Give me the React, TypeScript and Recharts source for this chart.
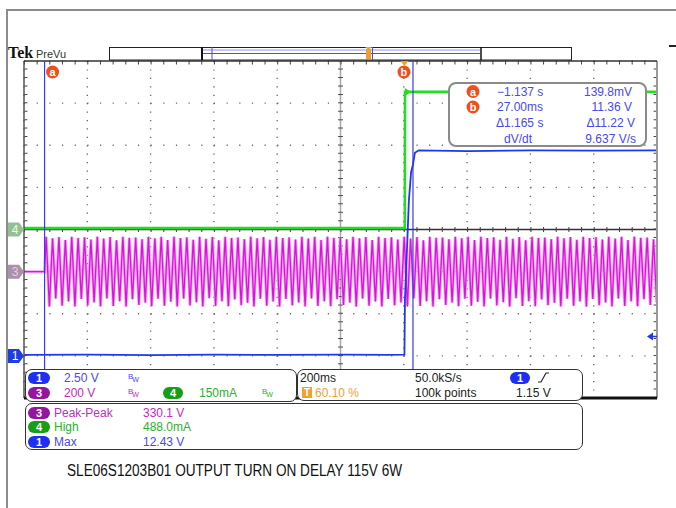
import React from "react";
import {
  CartesianGrid,
  Line,
  LineChart,
  ReferenceDot,
  ReferenceLine,
  XAxis,
  YAxis,
} from "recharts";

// Screen: 10 x 8 divisions, 200 ms/div, trigger at 60.10 % of the record
const timeDomain = [-1.202, 0.798];
const timeDivs = [-1.202, -1.002, -0.802, -0.602, -0.402, -0.202, -0.002, 0.198, 0.398, 0.598, 0.798];

// CH1 output voltage, 2.50 V/div, ground 3 div below centre
const ch1Domain = [-2.5, 17.5];
const ch1Divs = [-2.5, 0, 2.5, 5, 7.5, 10, 12.5, 15, 17.5];
const ch1Time = [
  -1.202, -1.0, -0.8, -0.6, -0.4, -0.2, -0.05, 0.0, 0.0016, 0.008, 0.014,
  0.021, 0.027, 0.033, 0.045, 0.2, 0.4, 0.6, 0.798,
];
const ch1Volts = [
  0.06, 0.08, 0.05, 0.07, 0.06, 0.08, 0.06, 0.07, 3.3, 6.3, 9.2, 10.9, 11.36,
  12.05, 12.2, 12.15, 12.2, 12.18, 12.2,
];

// CH4 output current, 150 mA/div, ground at centre
const ch4Time = [-1.202, 0.0012, 0.0018, 0.798];
const ch4mA = [5, 5, 490, 490];

// CH3 AC input, 200 V/div, ground 1 div below centre; switched on at cursor a
const ch3On = -1.137;
const ch3Step = 0.0101;
const ch3Volts = [
  165, -166, 158, -128, 164, -162, 150, -142, 165, -165, 160, -130, 163, -160, 152, -146,
  166, -165, 157, -127, 164, -163, 149, -140, 165, -166, 161, -131, 162, -158, 153, -147,
  165, -164, 158, -129, 165, -162, 150, -143, 166, -165, 159, -128, 163, -161, 151, -145,
  165, -166, 156, -126, 164, -163, 149, -141, 165, -164, 160, -132, 162, -159, 154, -148,
  166, -165, 158, -129, 164, -162, 151, -142, 165, -166, 159, -130, 163, -160, 152, -146,
  165, -165, 157, -127, 165, -163, 150, -141, 166, -164, 161, -131, 162, -158, 153, -147,
  165, -166, 158, -128, 164, -162, 150, -142, 165, -165, 160, -130, 163, -160, 152, -146,
  166, -165, 157, -127, 164, -163, 149, -140, 165, -166, 161, -131, 162, -158, 153, -147,
  165, -164, 158, -129, 165, -162, 150, -143, 166, -165, 159, -128, 163, -161, 151, -145,
  165, -166, 156, -126, 164, -163, 149, -141, 165, -164, 160, -132, 162, -159, 154, -148,
  166, -165, 158, -129, 164, -162, 151, -142, 165, -166, 159, -130, 163, -160, 152, -146,
  165, -165, 157, -127, 165, -163, 150, -141, 166, -164, 161, -131, 162, -158, 153, -147,
];

const cursorA = -1.137;
const cursorB = 0.027;
const trigLevel = 1.15;

const ch1Data = ch1Time.map((t, i) => ({ t, v: ch1Volts[i] }));
const ch4Data = ch4Time.map((t, i) => ({ t, v: ch4mA[i] }));
const ch3Data = [
  { t: timeDomain[0], v: 0 },
  { t: ch3On, v: 0 },
  ...ch3Volts.map((v, i) => ({ t: ch3On + (i + 0.5) * ch3Step, v })),
];

// division units -> axis units (for graticule decorations)
const dT = (d: number) => timeDomain[0] + d * 0.2;
const dV = (d: number) => ch1Domain[0] + (d + 4) * 2.5;

const FONT = "'Liberation Sans', Arial, sans-serif";
const BLUE = "#2236ee";
const BLUE_TXT = "#4848f4";
const MAG = "#de10de";
const MAG_LIGHT = "#f4a2f4";
const MAG_TXT = "#c02cc0";
const GREEN = "#22dd22";
const GREEN_TXT = "#2fae2f";
const ORANGE = "#f04e1c";

function Txt(props: {
  x: number;
  y: number;
  c?: string;
  size?: number;
  right?: boolean;
  children: React.ReactNode;
}) {
  const { x, y, c = "#222", size = 12, right, children } = props;
  const style: React.CSSProperties = {
    position: "absolute",
    top: y - 7,
    lineHeight: "14px",
    fontSize: size,
    fontFamily: FONT,
    color: c,
    whiteSpace: "nowrap",
  };
  if (right) style.right = 676 - x;
  else style.left = x;
  return <div style={style}>{children}</div>;
}

function Pill(props: { x: number; y: number; w?: number; bg: string; label: string }) {
  const { x, y, w = 22, bg, label } = props;
  return (
    <div
      style={{
        position: "absolute",
        left: x,
        top: y,
        width: w,
        height: 12,
        borderRadius: 6,
        background: bg,
        color: "#fff",
        fontSize: 11,
        fontWeight: "bold",
        fontFamily: FONT,
        lineHeight: "12px",
        textAlign: "center",
      }}
    >
      {label}
    </div>
  );
}

function Bw(props: { x: number; y: number; c: string }) {
  return (
    <div
      style={{
        position: "absolute",
        left: props.x,
        top: props.y,
        color: props.c,
        fontFamily: FONT,
        fontSize: 8,
        lineHeight: "8px",
      }}
    >
      B<span style={{ position: "relative", top: 3, left: -1, fontSize: 7 }}>W</span>
    </div>
  );
}

function Panel(props: { x: number; y: number; w: number; h: number }) {
  return (
    <div
      style={{
        position: "absolute",
        left: props.x,
        top: props.y,
        width: props.w,
        height: props.h,
        boxSizing: "border-box",
        border: "1.5px solid #333",
        borderRadius: 7,
        background: "#fff",
      }}
    />
  );
}

function Badge(props: { cx: number; cy: number; ch: string }) {
  return (
    <g>
      <circle cx={props.cx} cy={props.cy} r={6.5} fill={ORANGE} />
      <text
        x={props.cx}
        y={props.cy + 4}
        textAnchor="middle"
        fill="#fff"
        fontSize={11}
        fontWeight="bold"
        fontFamily={FONT}
      >
        {props.ch}
      </text>
    </g>
  );
}

function GndMarker(props: any, label: string, bg: string, fg: string) {
  const { cx, cy } = props;
  const pts = `${cx - 16},${cy - 7} ${cx - 5},${cy - 7} ${cx},${cy} ${cx - 5},${cy + 7} ${cx - 16},${cy + 7}`;
  return (
    <g>
      <polygon points={pts} fill={bg} />
      <text x={cx - 9} y={cy + 4.5} textAnchor="middle" fill={fg} fontSize={12} fontFamily={FONT}>
        {label}
      </text>
    </g>
  );
}

const ax = { xAxisId: "t", yAxisId: "ch1" };

export default function App() {
  return (
    <div
      style={{
        position: "absolute",
        left: 0,
        top: 0,
        width: 676,
        height: 508,
        background: "#fff",
        overflow: "hidden",
      }}
    >
      {/* page frame */}
      <div
        style={{
          position: "absolute",
          left: 6,
          top: 9,
          width: 700,
          height: 520,
          borderLeft: "2px solid #8c8c8c",
          borderTop: "2px solid #8c8c8c",
        }}
      />
      <div style={{ position: "absolute", left: 669, top: 45, width: 8, height: 1.5, background: "#222" }} />

      <LineChart
        width={676}
        height={508}
        margin={{ top: 61, right: 19, bottom: 110, left: 24 }}
        style={{ position: "absolute", left: 0, top: 0 }}
      >
        <XAxis xAxisId="t" type="number" dataKey="t" domain={timeDomain} ticks={timeDivs} allowDataOverflow hide />
        <YAxis yAxisId="ch1" type="number" domain={ch1Domain} ticks={ch1Divs} allowDataOverflow hide />
        <YAxis yAxisId="ch3" type="number" domain={[-600, 1000]} allowDataOverflow hide />
        <YAxis yAxisId="ch4" type="number" domain={[-600, 600]} allowDataOverflow hide />

        {/* dotted graticule */}
        <CartesianGrid
          {...ax}
          horizontal={false}
          stroke="#6a6a6a"
          strokeWidth={1.4}
          strokeDasharray="1.2 7.22"
        />
        <CartesianGrid
          {...ax}
          vertical={false}
          stroke="#6a6a6a"
          strokeWidth={1.4}
          strokeDasharray="1.2 11.46"
        />

        {/* centre crosshair with minor ticks */}
        <ReferenceLine {...ax} x={dT(5)} stroke="#a8a8a8" strokeWidth={1.5} />
        <ReferenceLine {...ax} x={dT(5)} stroke="#555" strokeWidth={5} strokeDasharray="1 7.42" />
        <ReferenceLine {...ax} y={dV(0)} stroke="#333" strokeWidth={1.5} />
        <ReferenceLine {...ax} y={dV(0)} stroke="#444" strokeWidth={5} strokeDasharray="1 11.66" />

        {/* border ticks */}
        <ReferenceLine
          {...ax}
          segment={[{ x: dT(0), y: dV(3.95) }, { x: dT(10), y: dV(3.95) }]}
          stroke="#444"
          strokeWidth={3}
          strokeDasharray="1 11.66"
        />
        <ReferenceLine
          {...ax}
          segment={[{ x: dT(0.03), y: dV(-4) }, { x: dT(0.03), y: dV(4) }]}
          stroke="#444"
          strokeWidth={3}
          strokeDasharray="1 7.42"
        />
        <ReferenceLine
          {...ax}
          segment={[{ x: dT(9.97), y: dV(-4) }, { x: dT(9.97), y: dV(4) }]}
          stroke="#444"
          strokeWidth={3}
          strokeDasharray="1 7.42"
        />

        {/* CH3: faint intensity-graded band under the bright trace */}
        <Line
          data={ch3Data}
          dataKey="v"
          xAxisId="t"
          yAxisId="ch3"
          type="linear"
          stroke={MAG_LIGHT}
          strokeWidth={3}
          dot={false}
          isAnimationActive={false}
        />
        <Line
          data={ch3Data}
          dataKey="v"
          xAxisId="t"
          yAxisId="ch3"
          type="linear"
          stroke={MAG}
          strokeWidth={1.3}
          dot={false}
          isAnimationActive={false}
        />
        <Line
          data={ch4Data}
          dataKey="v"
          xAxisId="t"
          yAxisId="ch4"
          type="linear"
          stroke={GREEN}
          strokeWidth={2.6}
          dot={false}
          isAnimationActive={false}
        />
        <Line
          data={ch1Data}
          dataKey="v"
          xAxisId="t"
          yAxisId="ch1"
          type="linear"
          stroke={BLUE}
          strokeWidth={1.8}
          dot={false}
          isAnimationActive={false}
        />

        {/* frame */}
        <ReferenceLine {...ax} x={dT(0)} stroke="#555" strokeWidth={1.5} />
        <ReferenceLine {...ax} x={dT(10)} stroke="#999" strokeWidth={2} />
        <ReferenceLine {...ax} y={dV(4)} stroke="#333" strokeWidth={1.5} />
        <ReferenceLine {...ax} y={dV(-4)} stroke="#111" strokeWidth={3} />

        {/* cursors */}
        <ReferenceLine
          {...ax}
          x={cursorA}
          stroke="#3a3ae8"
          strokeWidth={1.2}
          label={(p: any) => <Badge cx={p.viewBox.x + 8} cy={p.viewBox.y + 11} ch="a" />}
        />
        <ReferenceLine
          {...ax}
          x={cursorB}
          stroke="#3a3ae8"
          strokeWidth={1.2}
          label={(p: any) => <Badge cx={p.viewBox.x - 9} cy={p.viewBox.y + 11} ch="b" />}
        />

        {/* trigger position and level */}
        <ReferenceDot
          {...ax}
          x={0}
          y={dV(4)}
          shape={(p: any) => (
            <polygon points={`${p.cx - 4},${p.cy} ${p.cx + 4},${p.cy} ${p.cx},${p.cy + 5}`} fill="#f0a030" />
          )}
        />
        <ReferenceDot
          {...ax}
          x={timeDomain[1]}
          y={trigLevel}
          shape={(p: any) => (
            <g>
              <polygon points={`${p.cx - 10},${p.cy} ${p.cx - 4},${p.cy - 4} ${p.cx - 4},${p.cy + 4}`} fill={BLUE} />
              <line x1={p.cx - 5} y1={p.cy} x2={p.cx} y2={p.cy} stroke={BLUE} strokeWidth={1.5} />
            </g>
          )}
        />
        <ReferenceDot
          xAxisId="t"
          yAxisId="ch4"
          x={ch4Time[2]}
          y={ch4mA[2]}
          shape={(p: any) => (
            <polygon points={`${p.cx},${p.cy - 4} ${p.cx + 6},${p.cy} ${p.cx},${p.cy + 4}`} fill={GREEN} />
          )}
        />

        {/* channel ground markers */}
        <ReferenceDot
          xAxisId="t"
          yAxisId="ch4"
          x={timeDomain[0]}
          y={0}
          shape={(p: any) => GndMarker(p, "4", "#93bf93", "#e8ffe8")}
        />
        <ReferenceDot
          xAxisId="t"
          yAxisId="ch3"
          x={timeDomain[0]}
          y={0}
          shape={(p: any) => GndMarker(p, "3", "#a693a6", "#f4c4f4")}
        />
        <ReferenceDot
          {...ax}
          x={timeDomain[0]}
          y={0}
          shape={(p: any) => GndMarker(p, "1", "#1f3ee0", "#fff")}
        />
      </LineChart>

      {/* header */}
      <div
        style={{
          position: "absolute",
          left: 8,
          top: 45,
          fontFamily: "'Liberation Serif', serif",
          fontWeight: "bold",
          fontSize: 16,
          lineHeight: "16px",
          color: "#111",
        }}
      >
        Tek
      </div>
      <Txt x={36} y={54} c="#333" size={11}>
        PreVu
      </Txt>
      <svg style={{ position: "absolute", left: 0, top: 0 }} width={676} height={61}>
        <rect x={109.5} y={47.5} width={462} height={12.5} fill="#fff" stroke="#222" strokeWidth={1} />
        <line x1={202} y1={47} x2={202} y2={60} stroke="#111" strokeWidth={2} />
        <line x1={481} y1={47} x2={481} y2={60} stroke="#111" strokeWidth={1.5} />
        <line x1={203} y1={53.5} x2={480} y2={53.5} stroke="#4b4bf0" strokeWidth={1} />
        <line x1={203} y1={50} x2={480} y2={50} stroke="#8f8ff4" strokeWidth={1} />
        <line x1={212} y1={47} x2={212} y2={60} stroke="#4b4bf0" strokeWidth={1} />
        <line x1={372.5} y1={47} x2={372.5} y2={60} stroke="#4b4bf0" strokeWidth={1} />
        <rect x={366} y={49} width={5} height={10} fill="#f0a030" />
        <polygon points="365,47 372,47 368.5,50" fill="#f0a030" />
      </svg>

      {/* cursor readout */}
      <div
        style={{
          position: "absolute",
          left: 448,
          top: 82,
          width: 199,
          height: 65,
          boxSizing: "border-box",
          border: "2px solid #8a8a8a",
          borderRadius: 8,
          background: "#fff",
        }}
      />
      <svg style={{ position: "absolute", left: 460, top: 82 }} width={30} height={40}>
        <Badge cx={13} cy={9.5} ch="a" />
        <Badge cx={13} cy={25} ch="b" />
      </svg>
      <Txt x={497} y={91.5} c={BLUE_TXT}>−1.137 s</Txt>
      <Txt x={632} y={91.5} c={BLUE_TXT} right>139.8mV</Txt>
      <Txt x={497} y={107} c={BLUE_TXT}>27.00ms</Txt>
      <Txt x={632} y={107} c={BLUE_TXT} right>11.36 V</Txt>
      <Txt x={496} y={123} c={BLUE_TXT}>Δ1.165 s</Txt>
      <Txt x={635} y={123} c={BLUE_TXT} right>Δ11.22 V</Txt>
      <Txt x={504} y={138.5} c={BLUE_TXT}>dV/dt</Txt>
      <Txt x={636} y={138.5} c={BLUE_TXT} right>9.637 V/s</Txt>

      {/* vertical settings */}
      <Panel x={25} y={369} w={272} h={33} />
      <Pill x={28} y={371.5} bg="#1d2ff0" label="1" />
      <Txt x={64} y={377.5} c={BLUE_TXT}>2.50 V</Txt>
      <Bw x={128} y={373} c={BLUE_TXT} />
      <Pill x={28} y={387} bg="#96159e" label="3" />
      <Txt x={64} y={393} c={MAG_TXT}>200 V</Txt>
      <Bw x={128} y={388} c={MAG_TXT} />
      <Pill x={163} y={387} w={20} bg="#169e16" label="4" />
      <Txt x={199} y={393} c={GREEN_TXT}>150mA</Txt>
      <Bw x={262} y={388} c={GREEN_TXT} />

      {/* horizontal / trigger settings */}
      <Panel x={297} y={369} w={286} h={32} />
      <Txt x={300} y={377.5}>200ms</Txt>
      <Txt x={415} y={377.5}>50.0kS/s</Txt>
      <Pill x={510} y={371.5} w={20} bg="#1d2ff0" label="1" />
      <svg style={{ position: "absolute", left: 537, top: 371 }} width={14} height={13}>
        <polyline points="1,11 4,11 9,2 12,2" fill="none" stroke="#222" strokeWidth={1.2} />
      </svg>
      <div
        style={{
          position: "absolute",
          left: 302,
          top: 387,
          width: 10,
          height: 11,
          background: "#f0a030",
          color: "#fff",
          fontSize: 10,
          fontWeight: "bold",
          fontFamily: FONT,
          lineHeight: "11px",
          textAlign: "center",
        }}
      >
        T
      </div>
      <Txt x={315} y={393} c="#f2a035">60.10 %</Txt>
      <Txt x={415} y={393}>100k points</Txt>
      <Txt x={516} y={393}>1.15 V</Txt>

      {/* measurements */}
      <Panel x={25} y={403} w={558} h={47} />
      <Pill x={28} y={406.5} bg="#96159e" label="3" />
      <Txt x={54} y={412.5} c={MAG_TXT}>Peak-Peak</Txt>
      <Txt x={143} y={412.5} c={MAG_TXT}>330.1 V</Txt>
      <Pill x={28} y={421} bg="#169e16" label="4" />
      <Txt x={54} y={427} c={GREEN_TXT}>High</Txt>
      <Txt x={143} y={427} c={GREEN_TXT}>488.0mA</Txt>
      <Pill x={28} y={435.5} bg="#1d2ff0" label="1" />
      <Txt x={54} y={441.5} c={BLUE_TXT}>Max</Txt>
      <Txt x={143} y={441.5} c={BLUE_TXT}>12.43 V</Txt>

      {/* caption */}
      <div
        style={{
          position: "absolute",
          left: 67,
          top: 462,
          fontFamily: FONT,
          fontSize: 16,
          lineHeight: "18px",
          color: "#111",
          whiteSpace: "nowrap",
          transform: "scaleX(0.85)",
          transformOrigin: "left center",
        }}
      >
        SLE06S1203B01 OUTPUT TURN ON DELAY 115V 6W
      </div>
    </div>
  );
}
